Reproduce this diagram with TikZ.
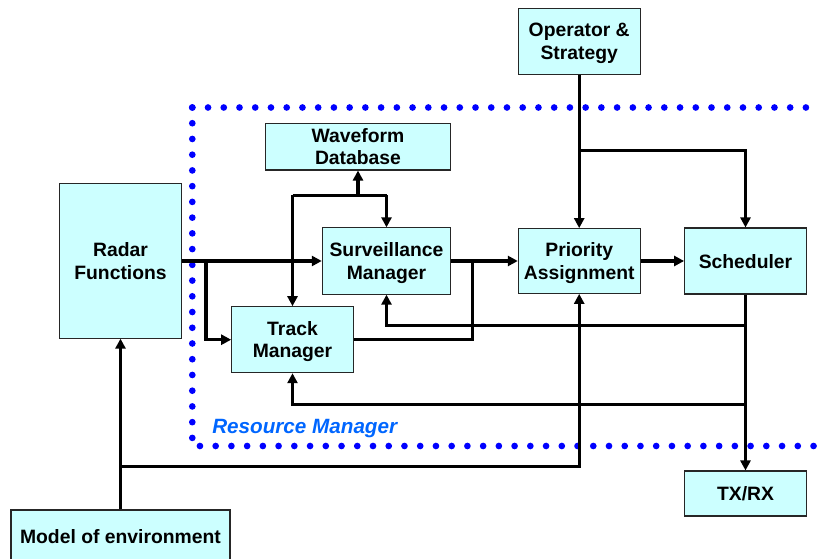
\documentclass[tikz,border=0pt]{standalone}
\usepackage{fontspec}
\setmainfont{Liberation Sans}
\usetikzlibrary{arrows.meta}
\definecolor{boxfill}{HTML}{CCFFFF}
\definecolor{dotblue}{HTML}{0000FF}
\definecolor{rmblue}{HTML}{0066FF}
\begin{document}
\begin{tikzpicture}[x=0.75pt,y=-0.75pt,
  blk/.style={draw=black!85,line width=0.8pt,fill=boxfill,inner sep=0pt,align=center,text depth=0pt,
    font=\fontsize{14.5}{16.7}\selectfont\bfseries},
  conn/.style={line width=2.4pt},
  arr/.style={conn,-{Triangle[length=7.5pt,width=7.5pt]}},
  dotline/.style={dotblue,line width=5pt,line cap=round,dash pattern=on 0pt off 11.8pt}]
\useasboundingbox (0,0) rectangle (821,559);

% Resource manager boundary
\draw[dotline] (192.3,107.5) -- (821,107.5);
\draw[dotline] (192.3,107.5) -- (192.3,446) -- (821,446);
\node[anchor=base west,inner sep=0pt,text=rmblue,font=\fontsize{15.5}{18}\selectfont\bfseries\itshape] (rm) at (212,433) {Resource Manager};

% Blocks
\node[blk,minimum width=91.5pt,minimum height=49.5pt] (op) at (579.2,41.2) {Operator \&\\Strategy};
\node[blk,minimum width=139.3pt,minimum height=35pt] (wf) at (358,146.7) {Waveform\\Database};
\node[blk,minimum width=91.3pt,minimum height=115.7pt] (radar) at (120.5,261) {Radar\\Functions};
\node[blk,minimum width=96.3pt,minimum height=49.7pt] (surv) at (386.5,261) {Surveillance\\Manager};
\node[blk,minimum width=91.3pt,minimum height=48.5pt] (prio) at (579.2,261) {Priority\\Assignment};
\node[blk,minimum width=91.3pt,minimum height=49.5pt] (sched) at (745.5,261) {Scheduler};
\node[blk,minimum width=91.2pt,minimum height=49.5pt] (track) at (292.5,339.7) {Track\\Manager};
\node[blk,minimum width=91.8pt,minimum height=33.75pt] (txrx) at (745.5,493.5) {TX/RX};
\node[blk,minimum width=164.25pt,minimum height=39pt] (model) at (120.5,536) {Model of environment};

% Junction points
\coordinate (j1) at (579.2,150.7);
\coordinate (j2) at (206,261);
\coordinate (w0) at (358,195.3);
\coordinate (wl) at (292.5,195.3);
\coordinate (wr) at (386.5,195.3);
\coordinate (t1) at (472.3,261);
\coordinate (f1) at (745.5,325.7);
\coordinate (f2) at (745.5,404.3);
\coordinate (m1) at (120.5,466.7);

% Connectors
\draw[arr] (op.south) -- (prio.north);
\draw[arr] (j1) -| (sched.north);
\draw[arr] (radar.east) -- (surv.west);
\draw[arr] (j2) |- (track.west);
\draw[arr] (w0) -- (wf.south);
\draw[conn] (wl) -- (wr);
\draw[arr] (wr) -- (surv.north);
\draw[arr] (wl) -- (track.north);
\draw[arr] (surv.east) -- (prio.west);
\draw[conn] (track.east) -| (t1);
\draw[arr] (prio.east) -- (sched.west);
\draw[arr] (sched.south) -- (txrx.north);
\draw[arr] (f1) -| (surv.south);
\draw[arr] (f2) -| (track.south);
\draw[arr] (model.north) -- (radar.south);
\draw[arr] (m1) -| (prio.south);
\end{tikzpicture}
\end{document}
